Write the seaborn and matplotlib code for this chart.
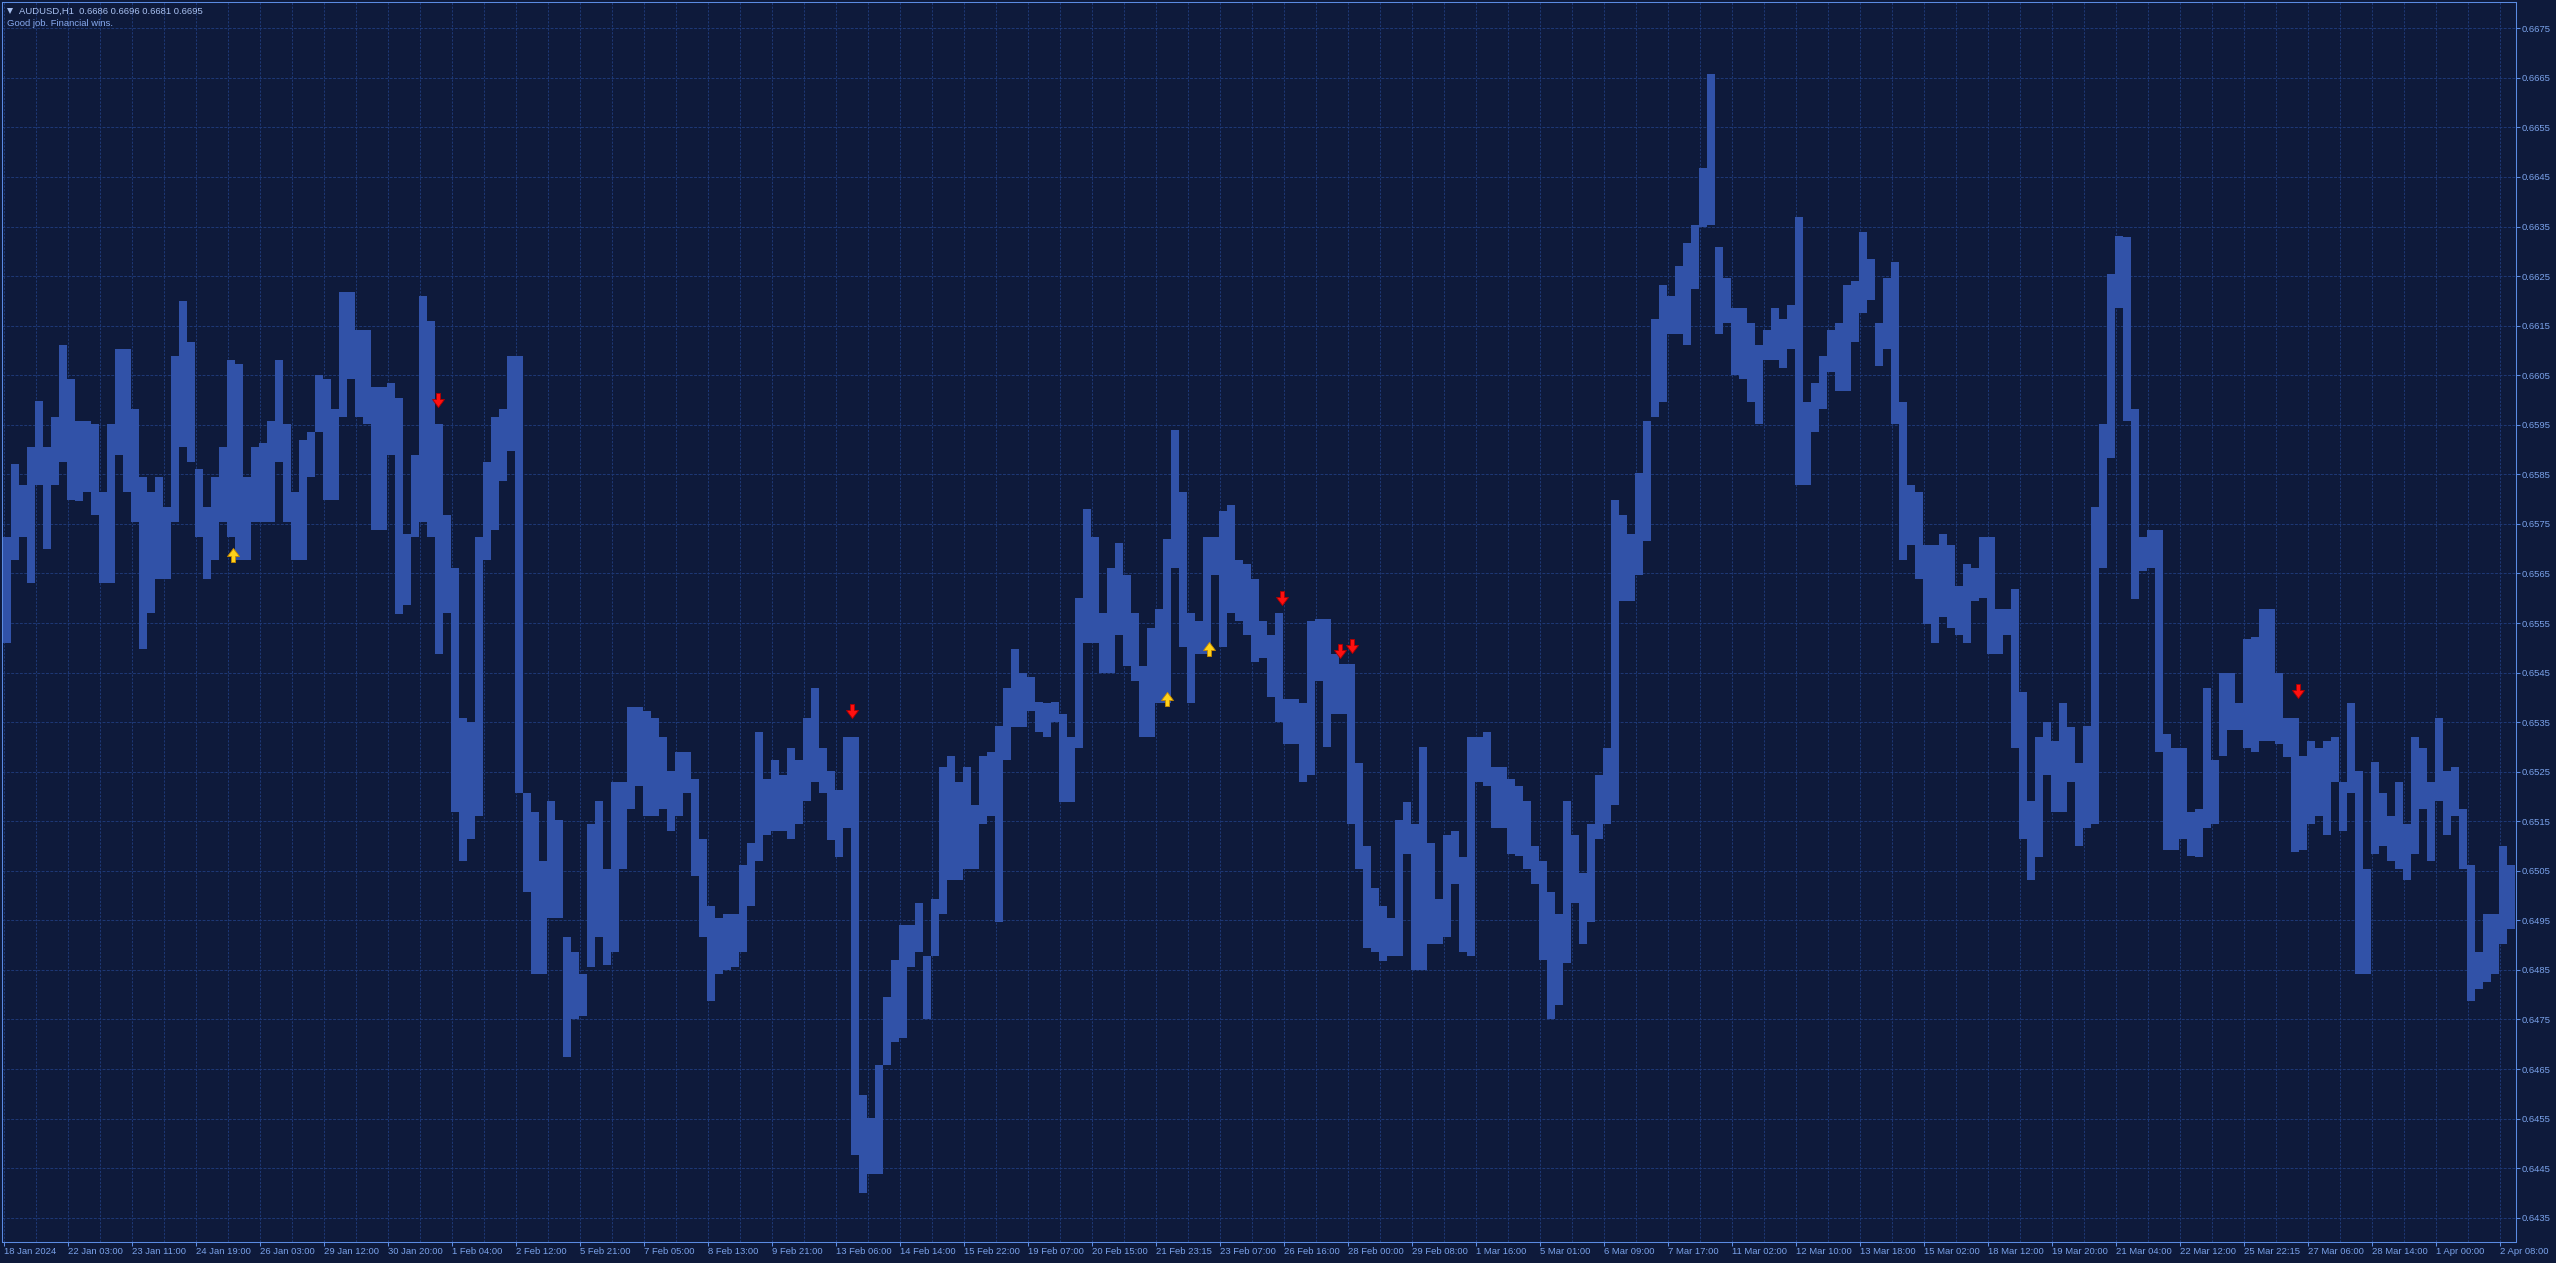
import numpy as np
import matplotlib
matplotlib.use("Agg")
import matplotlib.pyplot as plt
from matplotlib.path import Path
from matplotlib.lines import Line2D
from matplotlib.ticker import FixedLocator, FuncFormatter
import seaborn as sns

# ---------------- data (AUDUSD H1, 4-bar groups: high / low) ----------------
group_highs = [
    0.65723, 0.65870, 0.65829, 0.65905, 0.65999, 0.65905, 0.65966, 0.66110, 0.66042, 0.65958, 0.65958, 0.65951, 0.65814, 0.65951, 0.66103, 0.66103, 0.65981, 0.65844, 0.65814, 0.65844,
    0.65784, 0.66088, 0.66199, 0.66118, 0.65860, 0.65784, 0.65844, 0.65905, 0.66080, 0.66072, 0.65844, 0.65905, 0.65913, 0.65958, 0.66080, 0.65951, 0.65814, 0.65920, 0.65936, 0.66050,
    0.66042, 0.65981, 0.66217, 0.66217, 0.66141, 0.66141, 0.66027, 0.66027, 0.66034, 0.66004, 0.65730, 0.65890, 0.66209, 0.66160, 0.65951, 0.65768, 0.65662, 0.65358, 0.65350, 0.65723,
    0.65875, 0.65966, 0.65981, 0.66088, 0.66088, 0.65206, 0.65168, 0.65069, 0.65191, 0.65153, 0.64917, 0.64887, 0.64841, 0.65145, 0.65191, 0.65054, 0.65229, 0.65229, 0.65381, 0.65381,
    0.65373, 0.65358, 0.65320, 0.65251, 0.65289, 0.65289, 0.65236, 0.65115, 0.64978, 0.64955, 0.64963, 0.64963, 0.65061, 0.65107, 0.65330, 0.65236, 0.65274, 0.65244, 0.65297, 0.65274,
    0.65358, 0.65419, 0.65297, 0.65251, 0.65213, 0.65320, 0.65320, 0.64598, 0.64552, 0.64659, 0.64795, 0.64871, 0.64940, 0.64940, 0.64985, 0.64879, 0.64993, 0.65259, 0.65282, 0.65229,
    0.65259, 0.65183, 0.65282, 0.65289, 0.65343, 0.65419, 0.65498, 0.65449, 0.65441, 0.65391, 0.65388, 0.65391, 0.65366, 0.65320, 0.65601, 0.65780, 0.65723, 0.65571, 0.65662, 0.65711,
    0.65647, 0.65571, 0.65464, 0.65540, 0.65578, 0.65720, 0.65939, 0.65814, 0.65571, 0.65555, 0.65723, 0.65723, 0.65776, 0.65788, 0.65677, 0.65670, 0.65639, 0.65555, 0.65525, 0.65571,
    0.65396, 0.65396, 0.65388, 0.65555, 0.65559, 0.65559, 0.65487, 0.65467, 0.65467, 0.65267, 0.65100, 0.65016, 0.64978, 0.64955, 0.65153, 0.65188, 0.65145, 0.65300, 0.65107, 0.64993,
    0.65122, 0.65130, 0.65077, 0.65320, 0.65320, 0.65330, 0.65259, 0.65259, 0.65236, 0.65221, 0.65191, 0.65100, 0.65069, 0.65008, 0.64963, 0.65191, 0.65122, 0.65046, 0.65145, 0.65244,
    0.65297, 0.65799, 0.65768, 0.65730, 0.65852, 0.65958, 0.66164, 0.66232, 0.66209, 0.66270, 0.66316, 0.66354, 0.66468, 0.66658, 0.66308, 0.66247, 0.66186, 0.66186, 0.66156, 0.66110,
    0.66141, 0.66186, 0.66164, 0.66191, 0.66369, 0.65996, 0.66034, 0.66088, 0.66141, 0.66156, 0.66232, 0.66240, 0.66338, 0.66285, 0.66156, 0.66247, 0.66278, 0.65996, 0.65829, 0.65814,
    0.65707, 0.65707, 0.65730, 0.65707, 0.65624, 0.65670, 0.65662, 0.65723, 0.65723, 0.65578, 0.65578, 0.65619, 0.65411, 0.65191, 0.65320, 0.65350, 0.65312, 0.65388, 0.65340, 0.65267,
    0.65343, 0.65784, 0.65951, 0.66255, 0.66331, 0.66328, 0.65981, 0.65723, 0.65738, 0.65738, 0.65327, 0.65297, 0.65297, 0.65168, 0.65175, 0.65419, 0.65274, 0.65449, 0.65449, 0.65388,
    0.65517, 0.65521, 0.65578, 0.65578, 0.65449, 0.65358, 0.65358, 0.65282, 0.65312, 0.65297, 0.65312, 0.65320, 0.65229, 0.65388, 0.65251, 0.65054, 0.65270, 0.65206, 0.65160, 0.65229,
    0.65145, 0.65320, 0.65297, 0.65229, 0.65358, 0.65251, 0.65259, 0.65175, 0.65061, 0.64887, 0.64963, 0.64963, 0.65100, 0.65061,
]
group_lows = [
    0.65510, 0.65677, 0.65723, 0.65631, 0.65829, 0.65700, 0.65829, 0.65875, 0.65799, 0.65796, 0.65814, 0.65768, 0.65631, 0.65631, 0.65890, 0.65814, 0.65753, 0.65498, 0.65571, 0.65639,
    0.65639, 0.65753, 0.65905, 0.65875, 0.65723, 0.65639, 0.65677, 0.65753, 0.65723, 0.65677, 0.65677, 0.65753, 0.65753, 0.65753, 0.65875, 0.65753, 0.65677, 0.65677, 0.65844, 0.65936,
    0.65799, 0.65799, 0.65966, 0.66042, 0.65966, 0.65951, 0.65738, 0.65738, 0.65890, 0.65568, 0.65586, 0.65723, 0.65753, 0.65723, 0.65487, 0.65571, 0.65168, 0.65069, 0.65115, 0.65160,
    0.65677, 0.65738, 0.65837, 0.65898, 0.65206, 0.65008, 0.64841, 0.64841, 0.64955, 0.64955, 0.64674, 0.64750, 0.64757, 0.64856, 0.64917, 0.64859, 0.64887, 0.65054, 0.65175, 0.65221,
    0.65160, 0.65160, 0.65175, 0.65130, 0.65160, 0.65206, 0.65039, 0.64917, 0.64788, 0.64841, 0.64849, 0.64856, 0.64887, 0.64978, 0.65069, 0.65122, 0.65130, 0.65130, 0.65115, 0.65145,
    0.65191, 0.65229, 0.65206, 0.65112, 0.65077, 0.65137, 0.64476, 0.64400, 0.64438, 0.64438, 0.64659, 0.64705, 0.64712, 0.64856, 0.64887, 0.64750, 0.64879, 0.64963, 0.65031, 0.65031,
    0.65054, 0.65054, 0.65145, 0.65160, 0.64947, 0.65274, 0.65340, 0.65340, 0.65373, 0.65330, 0.65320, 0.65350, 0.65188, 0.65188, 0.65297, 0.65510, 0.65510, 0.65449, 0.65449, 0.65525,
    0.65464, 0.65434, 0.65320, 0.65320, 0.65388, 0.65388, 0.65662, 0.65502, 0.65388, 0.65487, 0.65487, 0.65647, 0.65502, 0.65571, 0.65555, 0.65525, 0.65472, 0.65479, 0.65400, 0.65350,
    0.65305, 0.65305, 0.65229, 0.65244, 0.65434, 0.65300, 0.65366, 0.65366, 0.65145, 0.65054, 0.64894, 0.64887, 0.64869, 0.64879, 0.64879, 0.65084, 0.64849, 0.64849, 0.64902, 0.64902,
    0.64917, 0.65023, 0.64887, 0.64879, 0.65229, 0.65221, 0.65137, 0.65137, 0.65084, 0.65080, 0.65054, 0.65023, 0.64871, 0.64750, 0.64780, 0.64864, 0.64985, 0.64902, 0.64947, 0.65115,
    0.65145, 0.65183, 0.65594, 0.65594, 0.65647, 0.65715, 0.65966, 0.65996, 0.66133, 0.66133, 0.66110, 0.66224, 0.66349, 0.66354, 0.66133, 0.66156, 0.66050, 0.66042, 0.65996, 0.65951,
    0.66080, 0.66080, 0.66065, 0.66103, 0.65829, 0.65829, 0.65936, 0.65981, 0.66057, 0.66019, 0.66019, 0.66118, 0.66176, 0.66202, 0.66069, 0.66103, 0.65951, 0.65677, 0.65707, 0.65639,
    0.65548, 0.65510, 0.65563, 0.65540, 0.65525, 0.65510, 0.65594, 0.65601, 0.65487, 0.65487, 0.65525, 0.65297, 0.65115, 0.65031, 0.65077, 0.65244, 0.65168, 0.65168, 0.65229, 0.65100,
    0.65137, 0.65145, 0.65662, 0.65882, 0.66186, 0.65958, 0.65598, 0.65654, 0.65662, 0.65289, 0.65092, 0.65092, 0.65115, 0.65080, 0.65077, 0.65137, 0.65145, 0.65282, 0.65335, 0.65335,
    0.65297, 0.65289, 0.65312, 0.65312, 0.65305, 0.65279, 0.65087, 0.65092, 0.65145, 0.65160, 0.65122, 0.65229, 0.65130, 0.65206, 0.64841, 0.64841, 0.65084, 0.65100, 0.65069, 0.65054,
    0.65031, 0.65084, 0.65175, 0.65069, 0.65191, 0.65122, 0.65160, 0.65054, 0.64788, 0.64811, 0.64826, 0.64841, 0.64902, 0.64932,
]
bars_per_group = 4

# signal arrows (bar index, price)
buy_bar = [114.5, 581.4, 602.4]
buy_price = [0.65688, 0.65396, 0.65498]
sell_bar = [216.9, 424.0, 639.0, 667.9, 674.0, 1147.0]
sell_price = [0.66001, 0.65373, 0.65601, 0.65493, 0.65504, 0.65413]

time_labels = [
    "18 Jan 2024", "22 Jan 03:00", "23 Jan 11:00", "24 Jan 19:00", "26 Jan 03:00",
    "29 Jan 12:00", "30 Jan 20:00", "1 Feb 04:00", "2 Feb 12:00", "5 Feb 21:00",
    "7 Feb 05:00", "8 Feb 13:00", "9 Feb 21:00", "13 Feb 06:00", "14 Feb 14:00",
    "15 Feb 22:00", "19 Feb 07:00", "20 Feb 15:00", "21 Feb 23:15", "23 Feb 07:00",
    "26 Feb 16:00", "28 Feb 00:00", "29 Feb 08:00", "1 Mar 16:00", "5 Mar 01:00",
    "6 Mar 09:00", "7 Mar 17:00", "11 Mar 02:00", "12 Mar 10:00", "13 Mar 18:00",
    "15 Mar 02:00", "18 Mar 12:00", "19 Mar 20:00", "21 Mar 04:00", "22 Mar 12:00",
    "25 Mar 22:15", "27 Mar 06:00", "28 Mar 14:00", "1 Apr 00:00", "2 Apr 08:00",
]
bars_per_label = 32
price_ticks = [round(0.6435 + 0.001 * k, 4) for k in range(25)]

header_line1 = "AUDUSD,H1  0.6686 0.6696 0.6681 0.6695"
header_line2 = "Good job. Financial wins."

# ---------------- style ----------------
BG = "#0e1a3b"
GRID = "#1d3774"
BAR = "#3152a8"
SPINE = "#5b8be2"
TICKTXT = "#7aa2ea"
HEAD1 = "#a8c0f0"
HEAD2 = "#86a9ee"

sns.set_theme(style="dark", rc={
    "axes.facecolor": BG, "figure.facecolor": BG,
    "axes.edgecolor": SPINE, "axes.linewidth": 0.75,
})
plt.rcParams["font.family"] = ["Liberation Sans", "DejaVu Sans"]

W, H = 2556, 1263
DPI = 100
fig = plt.figure(figsize=(W / DPI, H / DPI), dpi=DPI)
L, R, T, B = 2.0, 2515.5, 2.3, 1242.3
ax = fig.add_axes([L / W, (H - B) / H, (R - L) / W, (B - T) / H])
ax.set_facecolor(BG)

highs = np.array(group_highs)
lows = np.array(group_lows)
n = min(len(highs), len(lows))
highs, lows = highs[:n], lows[:n]
centers = np.arange(n) * bars_per_group + (bars_per_group - 1) / 2.0
ax.bar(centers, highs - lows, width=bars_per_group, bottom=lows, color=BAR,
       linewidth=0, zorder=2)

# arrow markers
down_path = Path([(-2, 7), (2, 7), (2, 1), (6, 1), (0, -7), (-6, 1), (-2, 1), (-2, 7)],
                 [Path.MOVETO] + [Path.LINETO] * 6 + [Path.CLOSEPOLY])
up_path = Path([(-2, -7), (2, -7), (2, -1), (6, -1), (0, 7), (-6, -1), (-2, -1), (-2, -7)],
               [Path.MOVETO] + [Path.LINETO] * 6 + [Path.CLOSEPOLY])
msize = (14 * 72 / DPI) ** 2
ax.scatter(buy_bar, buy_price, marker=up_path, s=msize, color="#ffd21a",
           edgecolors="#c88a00", linewidths=0.6, zorder=4)
ax.scatter(sell_bar, sell_price, marker=down_path, s=msize, color="#ff1010",
           edgecolors="#b00000", linewidths=0.6, zorder=4)

# axes limits
x_left = (L - 3.8) / 2.0
x_right = (R - 3.8) / 2.0
ax.set_xlim(x_left, x_right)
ax.set_ylim(0.643004, 0.668025)

# ticks
major_x = [bars_per_label * k for k in range(len(time_labels))]
minor_x = [bars_per_label * k + bars_per_label // 2 for k in range(len(time_labels))]
ax.xaxis.set_major_locator(FixedLocator(major_x))
ax.xaxis.set_minor_locator(FixedLocator(minor_x))
ax.set_xticklabels(time_labels)
for lab in ax.get_xticklabels():
    lab.set_horizontalalignment("left")
ax.yaxis.tick_right()
ax.yaxis.set_major_locator(FixedLocator(price_ticks))
ax.yaxis.set_major_formatter(FuncFormatter(lambda v, p: f"{v:.4f}"))

ax.tick_params(axis="x", which="major", direction="out", length=2.7, width=0.75,
               color=SPINE, labelcolor=TICKTXT, labelsize=6.8, pad=0.6, bottom=True)
ax.tick_params(axis="x", which="minor", length=0, bottom=False)
ax.tick_params(axis="y", which="major", direction="out", length=2.9, width=0.75,
               color=SPINE, labelcolor=TICKTXT, labelsize=6.8, pad=1.2, right=True, left=False)

# grid
ax.grid(False)
for xv in major_x + minor_x:
    ax.axvline(xv, color=GRID, lw=0.72, ls=(0, (2.2, 1.45)), zorder=1)
for yv in price_ticks:
    ax.axhline(yv, color=GRID, lw=0.72, ls=(0, (2.9, 1.45)), zorder=1)

for s in ax.spines.values():
    s.set_color(SPINE)
    s.set_linewidth(0.75)
    s.set_visible(True)

# header
fig.add_artist(Line2D([9.5 / W], [1 - 10.7 / H], marker="v", markersize=4.0,
                      color=HEAD1, markeredgewidth=0, transform=fig.transFigure))
fig.text(19 / W, 1 - 14.3 / H, header_line1, ha="left", va="baseline",
         fontsize=6.8, color=HEAD1)
fig.text(6.7 / W, 1 - 26.3 / H, header_line2, ha="left", va="baseline",
         fontsize=6.8, color=HEAD2)

fig.savefig("out.png", dpi=DPI, facecolor=BG)
